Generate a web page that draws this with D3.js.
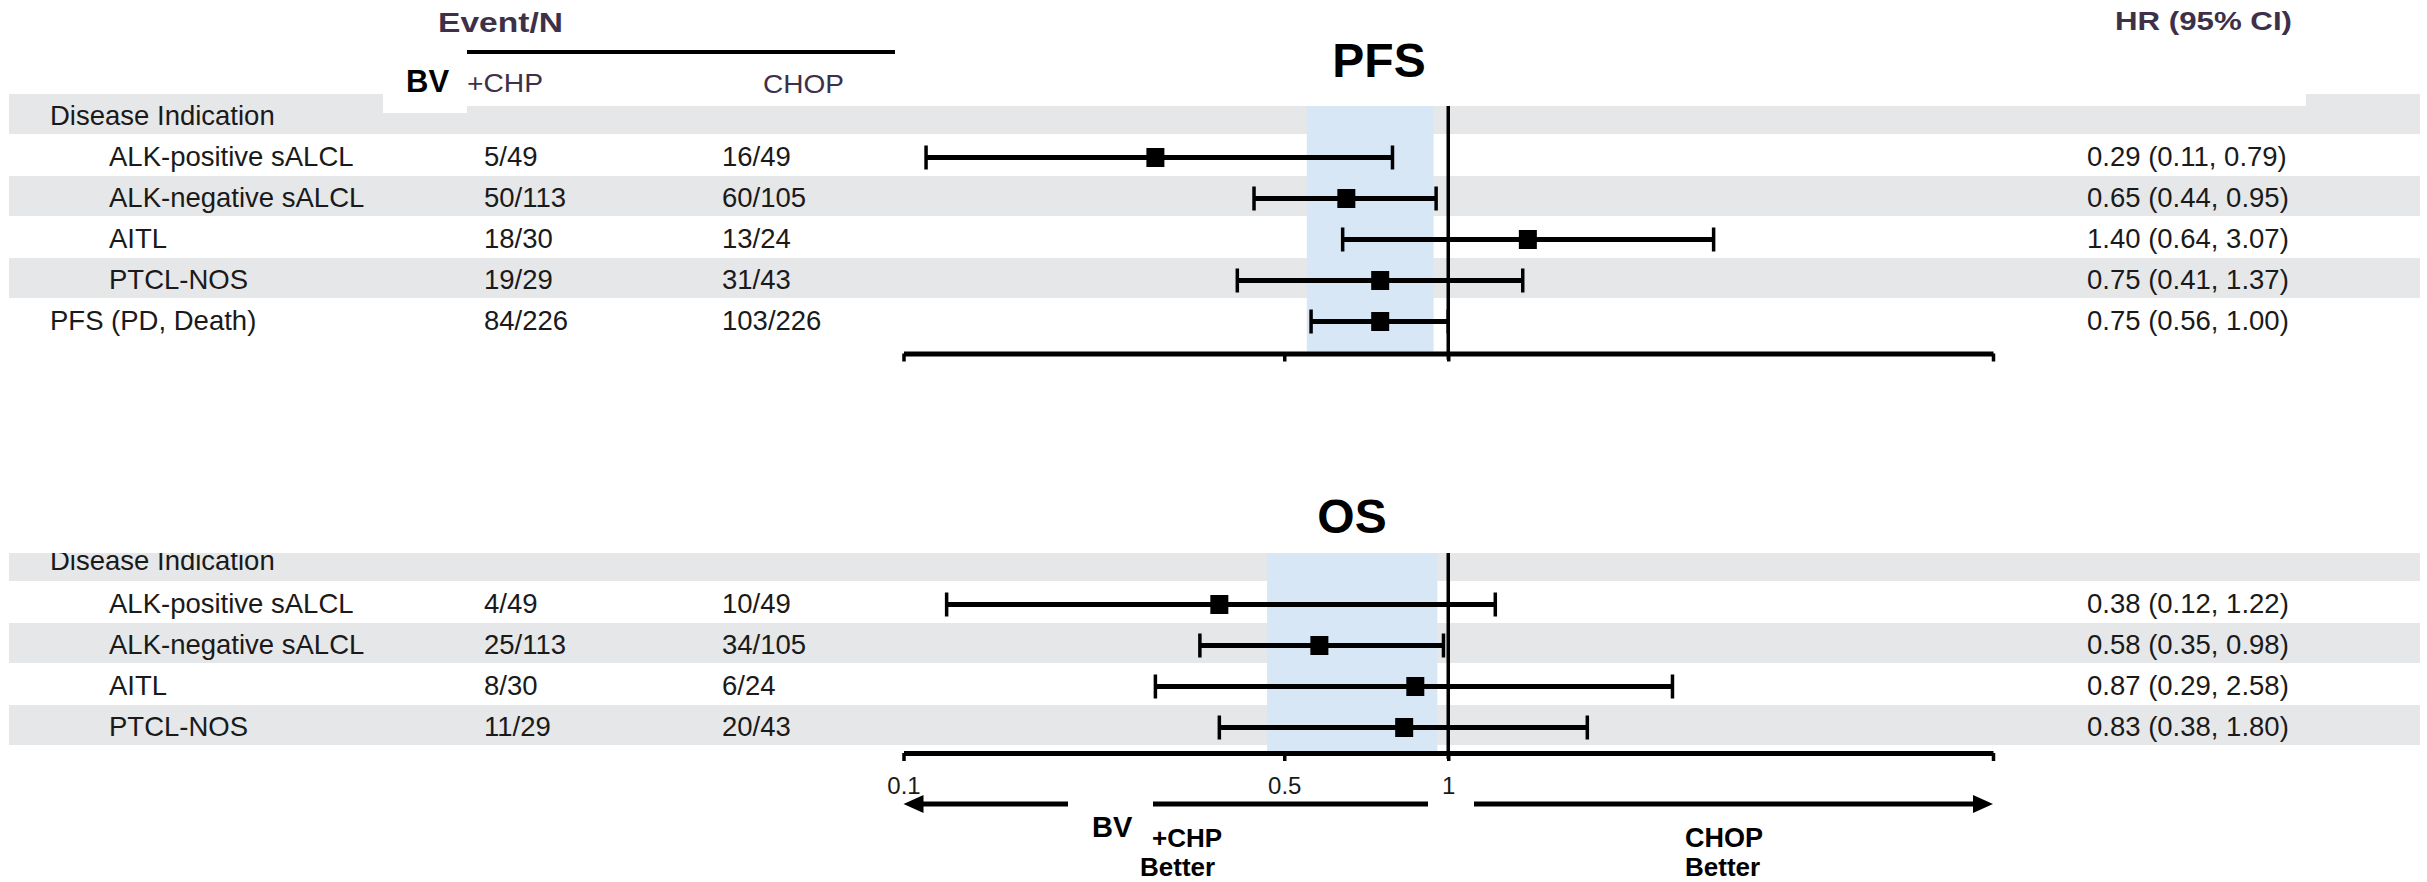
<!DOCTYPE html>
<html>
<head>
<meta charset="utf-8">
<title>PFS and OS by disease indication</title>
<script src="https://cdn.jsdelivr.net/npm/d3@7"></script>
<style>
    body { margin: 0; background: #fff; }
    text { font-family: 'Liberation Sans', Arial, sans-serif; fill: #1a1a1a; }
    .pix { fill: #3e3048; font-weight: bold; }
    .bold { font-weight: bold; fill: #000; }
</style>
</head>
<body>
<div id="vis"></div>
<script>
// Subgroup rows shared by both panels
var subgroups = ['ALK-positive sALCL', 'ALK-negative sALCL', 'AITL', 'PTCL-NOS'];

// PFS panel (last row is the overall result)
var pfsLabels = subgroups.concat(['PFS (PD, Death)']);
var pfsBvChp = ['5/49', '50/113', '18/30', '19/29', '84/226'];
var pfsChop = ['16/49', '60/105', '13/24', '31/43', '103/226'];
var pfsHr = [0.29, 0.65, 1.40, 0.75, 0.75];
var pfsLow = [0.11, 0.44, 0.64, 0.41, 0.56];
var pfsHigh = [0.79, 0.95, 3.07, 1.37, 1.00];
var pfsBand = [0.55, 0.94];

// OS panel
var osLabels = subgroups.slice();
var osBvChp = ['4/49', '25/113', '8/30', '11/29'];
var osChop = ['10/49', '34/105', '6/24', '20/43'];
var osHr = [0.38, 0.58, 0.87, 0.83];
var osLow = [0.12, 0.35, 0.29, 0.38];
var osHigh = [1.22, 0.98, 2.58, 1.80];
var osBand = [0.465, 0.955];

// Axis ticks
var tickValues = [0.1, 0.5, 1, 10];
var tickLabels = ['0.1', '0.5', '1', ''];

// Size of the whole picture
var width = 2427;
var height = 882;
var rowStep = 41;
var fmt = d3.format('.2f');

var svg = d3.select('#vis')
    .append('svg')
    .attr('width', width)
    .attr('height', height);

// Hazard ratio scale, shared by both panels
var xScale = d3.scaleLog()
    .domain([0.1, 10])
    .range([903.5, 1993]);

// Draws one panel: grey rows, blue band, table text, error bars, axis
var drawPanel = function(p) {
    var rows = ['header'].concat(p.labels);
    var yScale = d3.scaleBand()
        .domain(rows)
        .range([p.top, p.top + rowStep * rows.length]);

    var g = svg.append('g');
    if (p.clipTop) {
        svg.append('clipPath').attr('id', p.id + '-clip')
            .append('rect')
            .attr('x', 0).attr('y', p.clipTop)
            .attr('width', width).attr('height', height);
        g.attr('clip-path', 'url(#' + p.id + '-clip)');
    }

    // grey bands on alternate rows
    g.selectAll('rect.band')
        .data(rows.filter(function(d, i) { return i % 2 === 0; }))
        .enter().append('rect')
        .attr('class', 'band')
        .attr('x', 9)
        .attr('y', function(d) { return yScale(d); })
        .attr('width', 2411)
        .attr('height', rowStep - 1)
        .attr('fill', '#e6e7e9');

    if (p.id === 'pfs') {
        // header cells cut into the first band
        g.append('rect').attr('x', 383).attr('y', p.top).attr('width', 2306 - 383).attr('height', 12).attr('fill', '#fff');
        g.append('rect').attr('x', 383).attr('y', p.top).attr('width', 467 - 383).attr('height', 19).attr('fill', '#fff');
    }

    // blue band
    g.append('rect')
        .attr('x', xScale(p.band[0]))
        .attr('y', p.bandTop)
        .attr('width', xScale(p.band[1]) - xScale(p.band[0]))
        .attr('height', p.axisY - 2 - p.bandTop)
        .attr('fill', '#d7e7f5');

    // header row label
    g.append('text')
        .attr('x', 50)
        .attr('y', yScale('header') + p.headerBase)
        .style('font-size', '27.5px')
        .text('Disease Indication');

    // line of no effect
    g.append('line')
        .attr('x1', xScale(1)).attr('x2', xScale(1))
        .attr('y1', p.bandTop).attr('y2', p.axisY + 6)
        .attr('stroke', '#000')
        .attr('stroke-width', 3.5);

    var data = p.labels.map(function(d, i) {
        return {label: d, bv: p.bv[i], chop: p.chop[i], hr: p.hr[i], low: p.low[i], high: p.high[i]};
    });

    var row = g.selectAll('g.row')
        .data(data)
        .enter().append('g')
        .attr('class', 'row')
        .attr('transform', function(d) { return 'translate(0,' + yScale(d.label) + ')'; });

    row.append('text')
        .attr('x', function(d) { return subgroups.indexOf(d.label) >= 0 ? 109 : 50; })
        .attr('y', 30.5)
        .style('font-size', '27.5px')
        .text(function(d) { return d.label; });
    row.append('text')
        .attr('x', 484).attr('y', 30.5)
        .style('font-size', '27.5px')
        .text(function(d) { return d.bv; });
    row.append('text')
        .attr('x', 722).attr('y', 30.5)
        .style('font-size', '27.5px')
        .text(function(d) { return d.chop; });
    row.append('text')
        .attr('x', 2087).attr('y', 30.5)
        .style('font-size', '27.5px')
        .text(function(d) { return fmt(d.hr) + ' (' + fmt(d.low) + ', ' + fmt(d.high) + ')'; });

    // error bars
    var ey = 22.5;
    row.append('line')
        .attr('x1', function(d) { return xScale(d.low); })
        .attr('x2', function(d) { return xScale(d.high); })
        .attr('y1', ey).attr('y2', ey)
        .attr('stroke', '#000').attr('stroke-width', 5);
    row.selectAll('line.cap')
        .data(function(d) { return [d.low, d.high]; })
        .enter().append('line')
        .attr('class', 'cap')
        .attr('x1', function(v) { return xScale(v); })
        .attr('x2', function(v) { return xScale(v); })
        .attr('y1', ey - 12).attr('y2', ey + 12)
        .attr('stroke', '#000').attr('stroke-width', 3.5);
    row.append('rect')
        .attr('x', function(d) { return xScale(d.hr) - 9; })
        .attr('y', ey - 9.5)
        .attr('width', 18).attr('height', 19)
        .attr('fill', '#000');

    // axis
    var xAxis = d3.axisBottom(xScale)
        .tickValues(tickValues)
        .tickSize(8)
        .tickSizeOuter(0)
        .tickPadding(16)
        .tickFormat(function(d, i) { return p.showLabels ? tickLabels[i] : ''; });
    var axisG = svg.append('g')
        .attr('transform', 'translate(0,' + p.axisY + ')')
        .call(xAxis);
    axisG.select('.domain').attr('stroke', '#000').attr('stroke-width', 5);
    axisG.selectAll('.tick line').attr('stroke', '#000').attr('stroke-width', 3.5);
    axisG.selectAll('.tick text')
        .attr('fill', '#1a1a1a')
        .style('font-family', "'Liberation Sans', Arial, sans-serif")
        .style('font-size', '24px');

    // panel title
    svg.append('text')
        .attr('class', 'bold')
        .attr('x', p.titleX).attr('y', p.titleY)
        .attr('text-anchor', 'middle')
        .style('font-size', '48px')
        .text(p.title);
};

drawPanel({id: 'pfs', title: 'PFS', titleX: 1379, titleY: 77, top: 94, bandTop: 106, axisY: 353.5, headerBase: 30.5,
    labels: pfsLabels, bv: pfsBvChp, chop: pfsChop, hr: pfsHr, low: pfsLow, high: pfsHigh,
    band: pfsBand, showLabels: false});
drawPanel({id: 'os', title: 'OS', titleX: 1352, titleY: 533, top: 541, clipTop: 553, bandTop: 553, axisY: 753, headerBase: 28.5,
    labels: osLabels, bv: osBvChp, chop: osChop, hr: osHr, low: osLow, high: osHigh,
    band: osBand, showLabels: true});

// Table header
svg.append('text').attr('class', 'pix').attr('x', 438).attr('y', 32)
    .attr('textLength', 125).attr('lengthAdjust', 'spacingAndGlyphs')
    .style('font-size', '27px').text('Event/N');
svg.append('line').attr('x1', 467).attr('x2', 895).attr('y1', 52).attr('y2', 52)
    .attr('stroke', '#000').attr('stroke-width', 4);
svg.append('text').attr('class', 'bold').attr('x', 406).attr('y', 92)
    .style('font-size', '31px').text('BV');
svg.append('text').attr('class', 'pix').attr('x', 467).attr('y', 92)
    .attr('textLength', 76).attr('lengthAdjust', 'spacingAndGlyphs')
    .style('font-size', '26px').style('font-weight', 'normal').text('+CHP');
svg.append('text').attr('class', 'pix').attr('x', 763).attr('y', 93)
    .attr('textLength', 81).attr('lengthAdjust', 'spacingAndGlyphs')
    .style('font-size', '26px').style('font-weight', 'normal').text('CHOP');
svg.append('text').attr('class', 'pix').attr('x', 2115).attr('y', 30)
    .attr('textLength', 177).attr('lengthAdjust', 'spacingAndGlyphs')
    .style('font-size', '26px').text('HR (95% CI)');

// Direction arrows under the OS axis
var arrowY = 804;
var arrows = svg.append('g').attr('stroke', '#000').attr('stroke-width', 5);
arrows.append('line').attr('x1', xScale(0.1) + 12).attr('x2', 1068).attr('y1', arrowY).attr('y2', arrowY);
arrows.append('line').attr('x1', 1153).attr('x2', 1428).attr('y1', arrowY).attr('y2', arrowY);
arrows.append('line').attr('x1', 1474).attr('x2', xScale(10) - 12).attr('y1', arrowY).attr('y2', arrowY);
svg.append('path')
    .attr('d', d3.line()([[xScale(0.1), arrowY], [xScale(0.1) + 20, arrowY - 9], [xScale(0.1) + 20, arrowY + 9]]) + 'Z')
    .attr('fill', '#000');
svg.append('path')
    .attr('d', d3.line()([[xScale(10), arrowY], [xScale(10) - 20, arrowY - 9], [xScale(10) - 20, arrowY + 9]]) + 'Z')
    .attr('fill', '#000');

svg.append('text').attr('class', 'bold').attr('x', 1092).attr('y', 837).style('font-size', '29px').text('BV');
svg.append('text').attr('class', 'bold').attr('x', 1152).attr('y', 847).style('font-size', '26px').text('+CHP');
svg.append('text').attr('class', 'bold').attr('x', 1140).attr('y', 876).style('font-size', '26px').text('Better');
svg.append('text').attr('class', 'bold').attr('x', 1685).attr('y', 847).style('font-size', '27px').text('CHOP');
svg.append('text').attr('class', 'bold').attr('x', 1685).attr('y', 876).style('font-size', '26px').text('Better');
</script>
</body>
</html>
